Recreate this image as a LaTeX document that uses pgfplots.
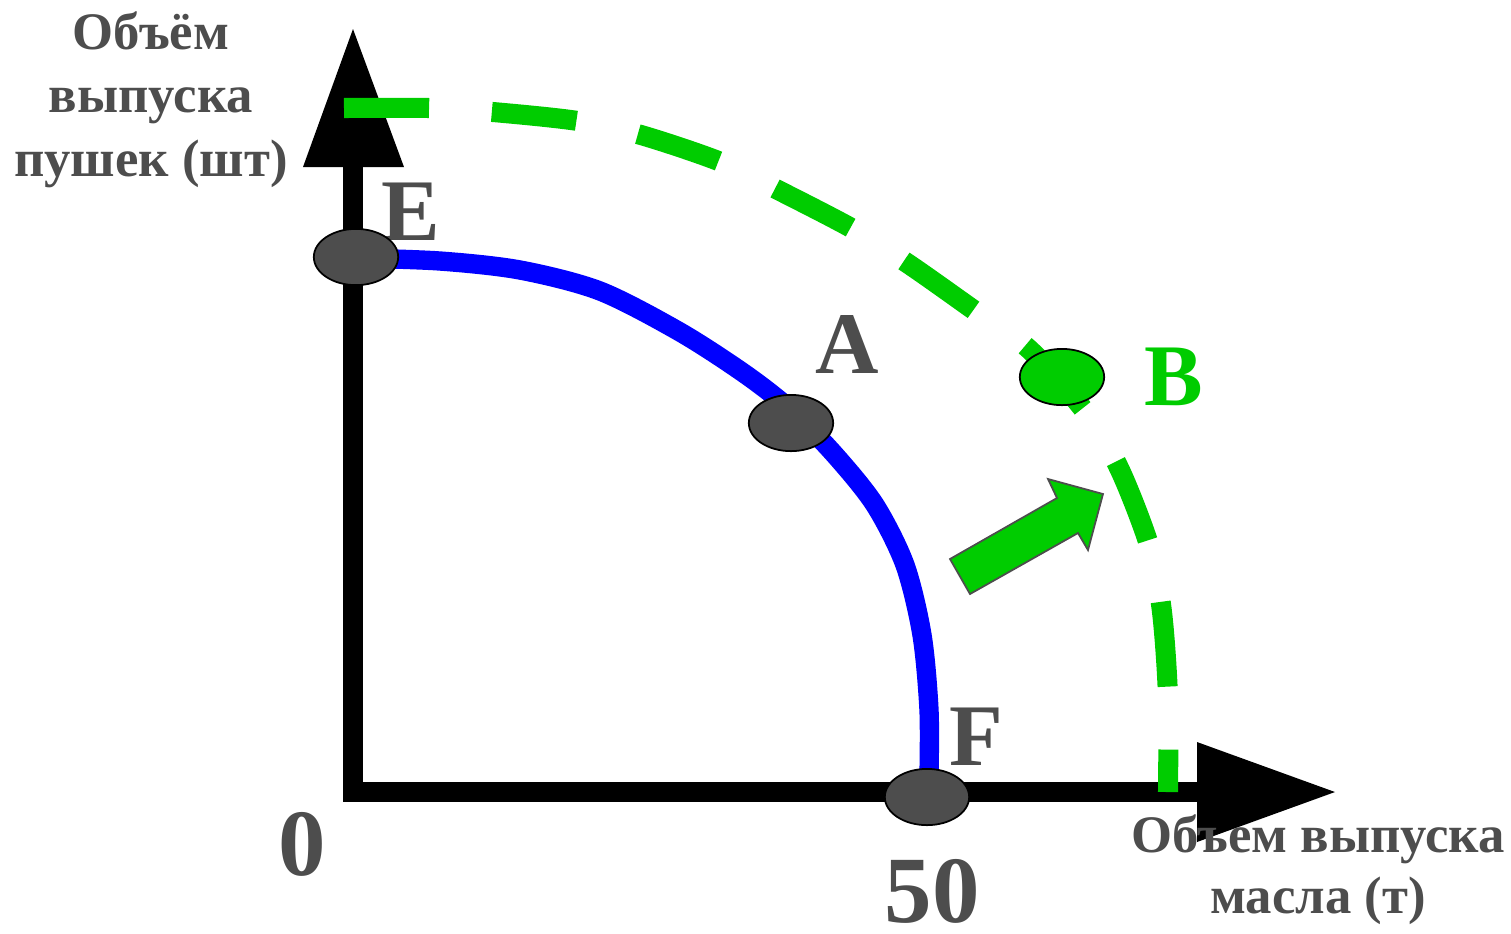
\documentclass[border=0pt]{standalone}
\usepackage{fontspec}
\setmainfont{Liberation Serif}
\usepackage{pgfplots}
\pgfplotsset{compat=1.18}
\definecolor{ppfgreen}{HTML}{00CC00}
\definecolor{ppfblue}{HTML}{0000FF}
\definecolor{txtgray}{HTML}{4D4D4D}
\tikzset{
    lbl/.style={text=txtgray, inner sep=0pt, anchor=base,
        font=\bfseries\fontsize{15}{18}\selectfont},
    pt/.style={text=txtgray, inner sep=0pt, anchor=base,
        font=\bfseries\fontsize{25}{30}\selectfont},
    num/.style={text=txtgray, inner sep=0pt, anchor=base,
        font=\bfseries\fontsize{27}{32}\selectfont},
}

% coordinates are read in pixels of the 1511x933 picture, y downwards
\begin{document}
\begin{tikzpicture}
\begin{axis}[
    width=15.11cm, height=9.33cm, scale only axis,
    xmin=0, xmax=1511, ymin=0, ymax=933,
    y dir=reverse,
    hide axis, clip=false,
]
% picture frame
\addplot[draw=none] coordinates {(0,0) (1511,933)};

% axes with arrowheads
\addplot[black, line width=5.7pt, line join=miter] coordinates {(353,167) (353,792) (1200,792)};
\addplot[fill=black, draw=none] coordinates {(303,167) (353,29) (404,167)} -- cycle;
\addplot[fill=black, draw=none] coordinates {(1197,742) (1335,792) (1197,842)} -- cycle;

% old frontier E-A-F
\addplot[ppfblue, line width=5.5pt, smooth] coordinates {
    (356,258) (440,261) (520,270) (600,291) (680,332) (745,374)
    (791,410) (835,455) (875,505) (905,565) (922,635) (929,710)
    (929,775)
};

% new frontier (dashed)
\addplot[ppfgreen, line width=5.7pt, smooth, dash pattern=on 24.2pt off 17.9pt] coordinates {
    (344,108) (429,108) (493,112) (578,121) (641,135) (721,162)
    (780,191) (855,230) (910,265) (978,313) (1030,350) (1087,414)
    (1120,470) (1150,548) (1162,612) (1168,697) (1168,792)
};

% shift arrow
\addplot[fill=ppfgreen, draw=txtgray, line width=0.5pt, line join=miter] coordinates {
    (950,559) (1057,498) (1048,479) (1103,494) (1088,550) (1078,533) (970,594)
} -- cycle;

% points
\addplot[only marks, mark=*, mark size=8pt,
    mark options={fill=txtgray, draw=black, line width=0.5pt, xscale=1.5}]
    coordinates {(356,257) (791,423) (927,797)};
\addplot[only marks, mark=*, mark size=8pt,
    mark options={fill=ppfgreen, draw=black, line width=0.5pt, xscale=1.5}]
    coordinates {(1062,377)};

% labels
\node[lbl] at (axis cs:151,49) {Объём};
\node[lbl] at (axis cs:151,112) {выпуска};
\node[lbl] at (axis cs:151,176) {пушек (шт)};
\node[lbl] at (axis cs:1318,852) {Объем выпуска};
\node[lbl] at (axis cs:1318,913) {масла (т)};

\node[pt] at (axis cs:411,240) {E};
\node[pt] at (axis cs:847,373) {A};
\node[pt, text=ppfgreen] at (axis cs:1174,405) {B};
\node[pt] at (axis cs:976,765) {F};

\node[num] at (axis cs:302,875) {0};
\node[num] at (axis cs:932,922) {50};
\end{axis}
\end{tikzpicture}
\end{document}
